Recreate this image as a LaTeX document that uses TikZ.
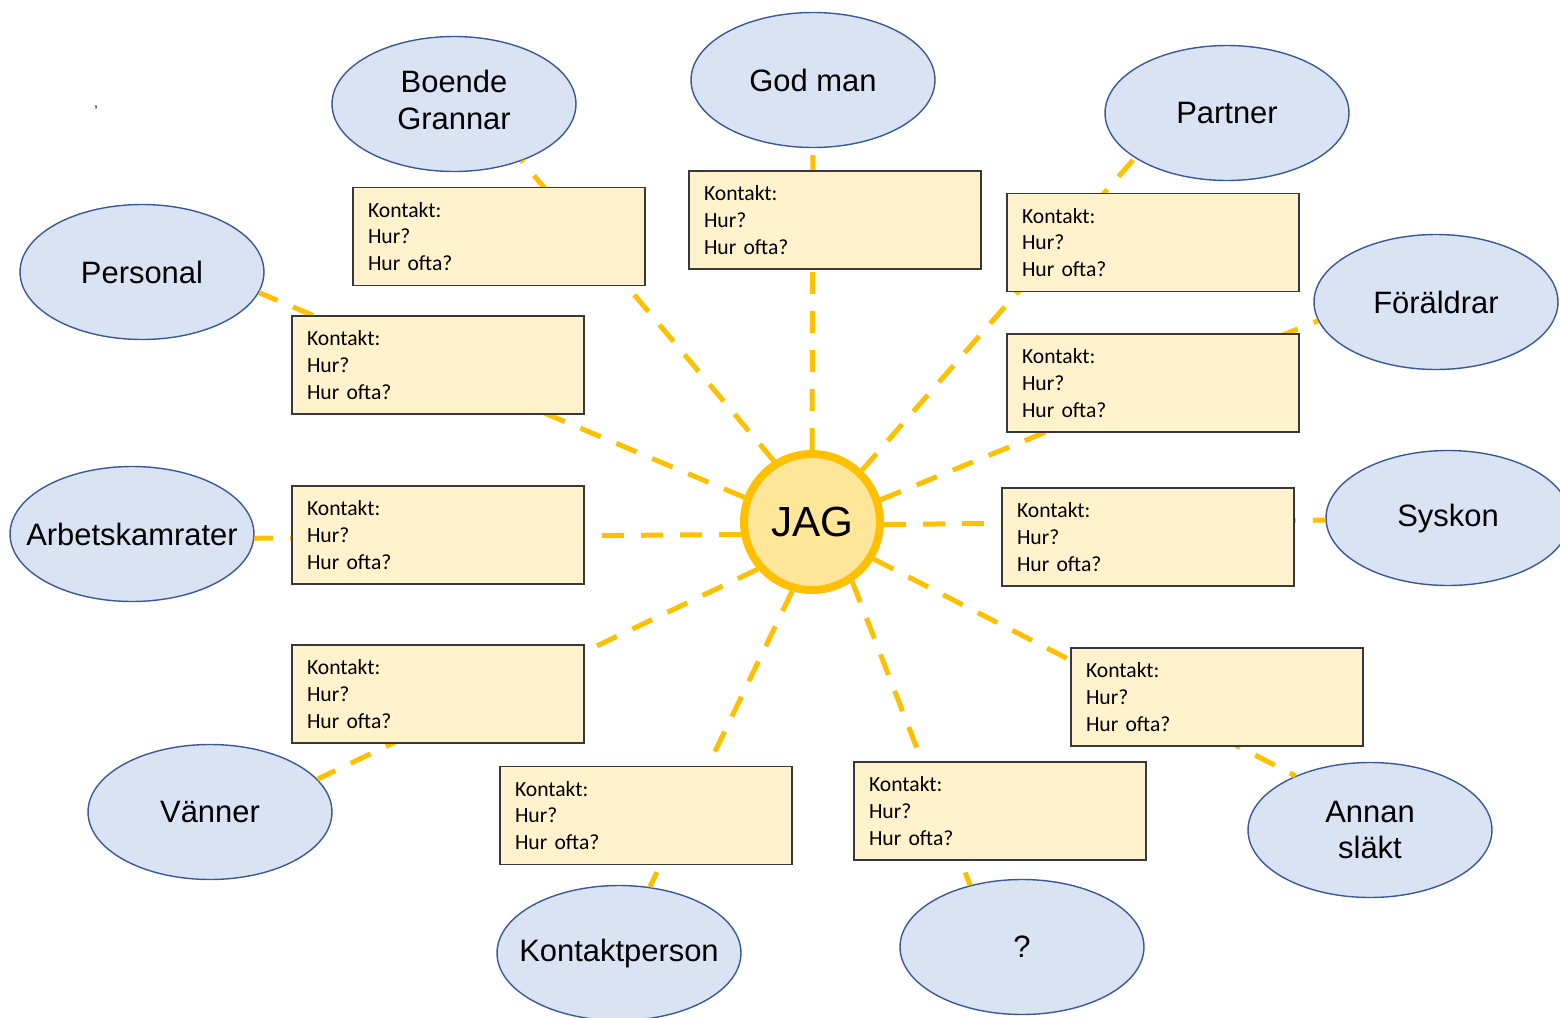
\documentclass[tikz,border=0pt]{standalone}
\usepackage{fontspec}
\setmainfont{Liberation Sans}
\newfontfamily\boxfont{Carlito}
\usepackage{tikz}
\usepackage{xcolor}
\usetikzlibrary{positioning, shapes.geometric}

\definecolor{sunline}{HTML}{FFC000}
\definecolor{sunfill}{HTML}{FFE699}
\definecolor{ovalfill}{HTML}{DAE3F3}
\definecolor{ovalline}{HTML}{3A5A96}
\definecolor{notefill}{HTML}{FFF2CC}
\definecolor{noteline}{HTML}{383838}

\begin{document}
\begin{tikzpicture}[x=0.02cm, y=-0.02cm,
    person/.style={ellipse, draw=ovalline, line width=0.8pt, fill=ovalfill,
        minimum width=4.88cm, minimum height=2.7cm, inner sep=0pt,
        align=center, font=\fontsize{17.6}{21}\selectfont},
    me/.style={circle, draw=sunline, line width=0.16cm, fill=sunfill,
        minimum size=2.72cm, inner sep=0pt, font=\fontsize{24}{28}\selectfont},
    link/.style={sunline, line width=0.1cm, dash pattern=on 0.44cm off 0.34cm},
    note/.style={rectangle, draw=noteline, line width=0.9pt, fill=notefill,
        text width=5.24cm, inner xsep=0.3cm, minimum height=1.96cm,
        align=left, font=\boxfont\fontsize{12.3}{15.3}\selectfont}]
    \clip (0,0) rectangle (1560,1018);

    % Centre
    \node[me] (jag) at (812,522) {JAG};

    % People around
    \node[person] (boende) at (454,104) {\raisebox{0.14cm}{\begin{tabular}{@{}c@{}}Boende\\Grannar\end{tabular}}};
    \node[person] (godman) at (813,80) {God man};
    \node[person] (partner) at (1227,113) {Partner};
    \node[person] (personal) at (142,272) {Personal};
    \node[person] (foraldrar) at (1436,302) {Föräldrar};
    \node[person] (arbets) at (132,534) {\makebox[0pt]{Arbetskamrater}};
    \node[person] (syskon) at (1448,518) {Syskon};
    \node[person] (vanner) at (210,812) {Vänner};
    \node[person] (slakt) at (1370,830) {Annan\\släkt};
    \node[person] (kontakt) at (619,953) {\makebox[0pt]{Kontaktperson}};
    \node[person] (okand) at (1022,947) {?};
    \node[font=\fontsize{8}{8}\selectfont] (mark) at (96,108) {,};

    % Dashed rays
    \draw[link] (jag.122) -- (boende.-40);
    \draw[link] (jag.90) -- (godman.-90);
    \draw[link] (jag.46) -- (partner.206);
    \draw[link] (jag.160) -- (personal.-10);
    \draw[link] (jag.18) -- (foraldrar.189);
    \draw[link] (jag.190) -- (arbets.-2);
    \draw[link] (jag.-2) -- (syskon.181);
    \draw[link] (jag.221) -- (vanner.17);
    \draw[link] (jag.254) -- (kontakt.65);
    \draw[link] (jag.-56) -- (okand.130);
    \draw[link] (jag.-31) -- (slakt.144);

    % Contact notes on top of the rays
    \node[note] (nboende) at (499,236.5) {Kontakt:\\Hur?\\Hur ofta?};
    \node[note] (ngodman) at (835,220) {Kontakt:\\Hur?\\Hur ofta?};
    \node[note] (npartner) at (1153,242.5) {Kontakt:\\Hur?\\Hur ofta?};
    \node[note] (npersonal) at (438,365) {Kontakt:\\Hur?\\Hur ofta?};
    \node[note] (nforaldrar) at (1153,383) {Kontakt:\\Hur?\\Hur ofta?};
    \node[note] (narbets) at (438,535) {Kontakt:\\Hur?\\Hur ofta?};
    \node[note] (nsyskon) at (1148,537) {Kontakt:\\Hur?\\Hur ofta?};
    \node[note] (nvanner) at (438,694) {Kontakt:\\Hur?\\Hur ofta?};
    \node[note] (nkontakt) at (646,815.5) {Kontakt:\\Hur?\\Hur ofta?};
    \node[note] (nokand) at (1000,811) {Kontakt:\\Hur?\\Hur ofta?};
    \node[note] (nslakt) at (1217,697) {Kontakt:\\Hur?\\Hur ofta?};
\end{tikzpicture}
\end{document}
